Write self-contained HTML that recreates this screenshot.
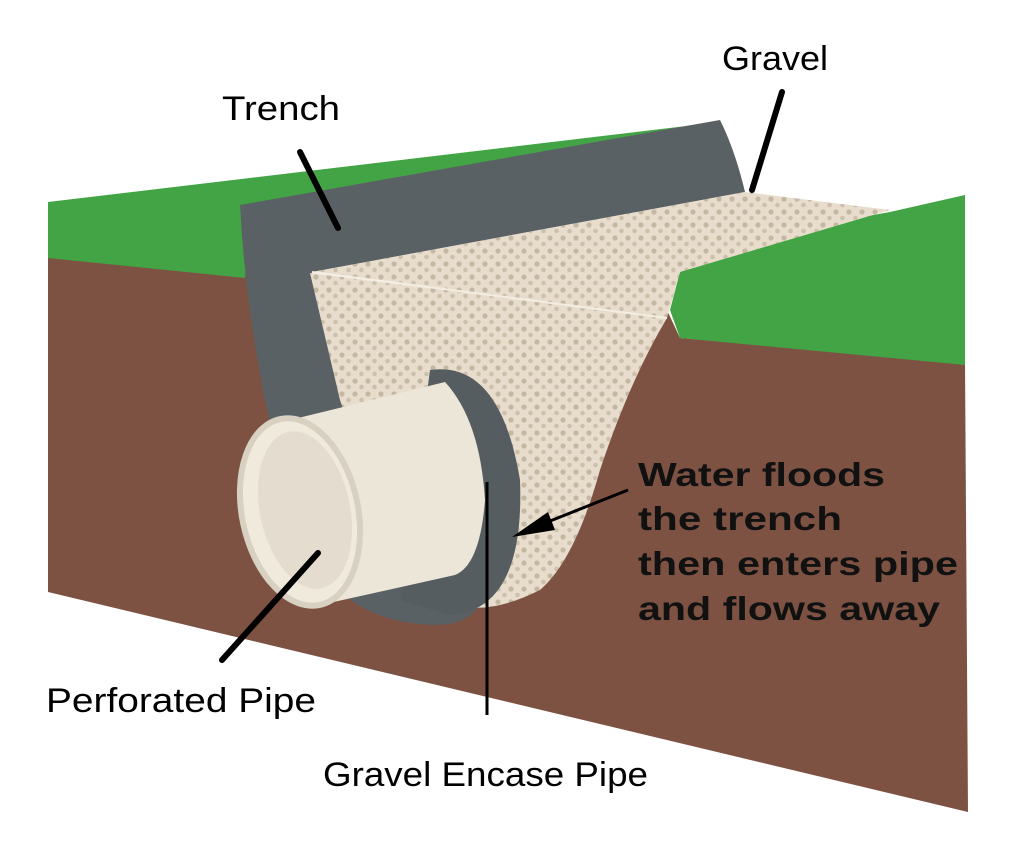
<!DOCTYPE html>
<html><head><style>
body{margin:0;background:#fff;width:1023px;height:841px;overflow:hidden}
svg{position:absolute;left:0;top:0}
text{font-family:"Liberation Sans",sans-serif}
</style></head><body>
<svg width="1023" height="841" viewBox="0 0 1023 841">
<defs>
<pattern id="dots" width="13" height="13" patternUnits="userSpaceOnUse">
<rect width="13" height="13" fill="#e8ddcc"/>
<circle cx="4" cy="4" r="2.6" fill="#c5b8a3"/>
<circle cx="10.5" cy="10" r="2.3" fill="#cdc0ad"/>
</pattern>
</defs>
<!-- soil front -->
<polygon points="48,255 250,272 667,310 680,338 965,362 968,812 48,592" fill="#7d5243"/>
<!-- left grass -->
<polygon points="48,202 720,122 730,190 250,210 245,278 48,258" fill="#42a444"/>
<!-- right grass -->
<polygon points="680,272 760,235 890,212 965,195 965,365 680,338 670,310" fill="#42a444"/>
<!-- trench liner -->
<path d="M240,205 L720,120 Q735,150 745,192 L312,272 Q320,330 345,385 L470,560 Q500,620 440,625 Q360,625 320,570 Q280,470 265,400 Q245,300 240,205 Z" fill="#5a6165"/>
<!-- gravel top -->
<polygon points="312,272 745,192 890,210 680,272 667,318" fill="url(#dots)"/>
<!-- gravel front -->
<path d="M310,273 L667,318 Q630,380 600,470 Q575,560 540,590 Q480,620 440,600 Q380,520 340,400 Z" fill="url(#dots)"/>
<line x1="312" y1="272" x2="667" y2="318" stroke="#f4eee2" stroke-width="2"/>
<!-- pipe gray band -->
<path d="M430,370 Q500,360 520,480 Q525,610 450,615 L400,600 Z" fill="#565d61"/>
<!-- pipe body -->
<path d="M290,420 L445,382 Q480,420 485,500 Q480,565 455,575 L320,605 Z" fill="#ece6d8"/>
<ellipse cx="300" cy="512" rx="58" ry="95" transform="rotate(-12 300 512)" fill="#f0eadd" stroke="#d8d0c0" stroke-width="6"/>
<ellipse cx="305" cy="510" rx="45" ry="80" transform="rotate(-12 305 510)" fill="#e4ddcf"/>
<!-- labels lines -->
<g stroke="#000" stroke-width="6" stroke-linecap="round">
<line x1="300" y1="152" x2="338" y2="228"/>
<line x1="782" y1="92" x2="752" y2="190"/>
<line x1="318" y1="553" x2="222" y2="660"/>
</g>
<line x1="487" y1="482" x2="487" y2="715" stroke="#000" stroke-width="3"/>
<line x1="628" y1="490" x2="540" y2="525" stroke="#000" stroke-width="3"/>
<polygon points="512,537 548,512 555,530" fill="#000"/>
<!-- text -->
<text x="222" y="120" font-size="34" textLength="118" lengthAdjust="spacingAndGlyphs">Trench</text>
<text x="722" y="70" font-size="34" textLength="106" lengthAdjust="spacingAndGlyphs">Gravel</text>
<text x="46" y="712" font-size="34" textLength="270" lengthAdjust="spacingAndGlyphs">Perforated Pipe</text>
<text x="323" y="786" font-size="34" textLength="325" lengthAdjust="spacingAndGlyphs">Gravel Encase Pipe</text>
<g font-size="33" font-weight="bold" fill="#111">
<text x="638" y="486" textLength="247" lengthAdjust="spacingAndGlyphs">Water floods</text>
<text x="638" y="530" textLength="204" lengthAdjust="spacingAndGlyphs">the trench</text>
<text x="638" y="575" textLength="320" lengthAdjust="spacingAndGlyphs">then enters pipe</text>
<text x="638" y="620" textLength="302" lengthAdjust="spacingAndGlyphs">and flows away</text>
</g>
</svg>
</body></html>
